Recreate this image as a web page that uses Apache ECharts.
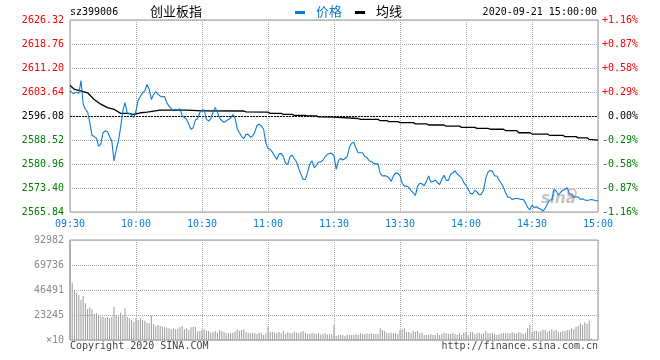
<!DOCTYPE html>
<html>
<head>
<meta charset="utf-8">
<script src="https://cdn.jsdelivr.net/npm/echarts@6/dist/echarts.min.js"></script>
<style>
html,body{margin:0;padding:0;background:#fff;}
#c{width:660px;height:360px;}
</style>
</head>
<body>
<div id="c"></div>
<script>
// ---- data ----
const symbol = 'sz399006';
const title = '创业板指';
const dateText = '2020-09-21 15:00:00';
const prevClose = 2596.08;
const timeLabels = ['09:30','10:00','10:30','11:00','11:30','13:30','14:00','14:30','15:00'];
const price = [
2603.96,2603.43,2603.2,2603.6,2603.2,2607.2,2599.76,2598.2,2597.3,2594.0,
2590.0,2589.6,2589.1,2586.6,2587.2,2590.8,2591.4,2591.2,2589.6,2588.2,
2581.9,2585.4,2588.2,2592.4,2597.7,2600.3,2597.1,2596.9,2596.3,2595.6,
2597.7,2601.1,2602.2,2603.4,2604.0,2606.0,2604.5,2601.3,2602.9,2603.8,
2602.9,2602.4,2602.1,2602.2,2600.3,2599.2,2598.4,2597.9,2598.2,2598.0,
2598.4,2596.1,2595.6,2595.0,2593.5,2591.9,2592.4,2594.8,2595.2,2597.1,
2597.97,2597.97,2595.0,2594.5,2595.2,2597.3,2598.8,2597.3,2595.4,2594.6,
2594.1,2594.5,2595.0,2595.4,2596.5,2595.6,2592.1,2590.8,2589.6,2589.0,
2590.3,2590.3,2589.4,2589.8,2591.0,2593.1,2593.5,2593.0,2591.9,2587.7,
2585.8,2585.6,2584.7,2583.5,2582.4,2584.2,2584.3,2583.3,2581.2,2580.8,
2583.3,2583.7,2582.6,2581.6,2579.5,2577.7,2576.1,2576.1,2578.4,2580.9,
2582.0,2579.8,2580.5,2581.6,2581.6,2582.2,2583.3,2584.0,2584.3,2584.3,
2583.5,2579.3,2582.0,2582.7,2582.2,2582.7,2583.3,2586.2,2587.5,2587.8,
2585.9,2584.5,2584.5,2584.5,2583.3,2583.0,2582.0,2581.7,2581.2,2581.0,
2581.0,2578.0,2577.2,2577.3,2577.1,2576.6,2575.5,2577.2,2578.1,2578.0,
2577.2,2574.9,2574.0,2574.0,2573.6,2572.6,2571.9,2571.1,2574.0,2574.9,
2574.7,2574.1,2575.5,2577.2,2575.3,2575.4,2575.9,2575.2,2574.5,2576.1,
2577.4,2575.8,2575.8,2577.7,2578.2,2578.8,2577.8,2577.2,2576.6,2575.1,
2574.2,2573.0,2571.7,2571.5,2572.6,2572.2,2571.3,2571.4,2572.8,2576.5,
2578.4,2578.9,2578.7,2577.2,2577.2,2575.9,2574.9,2573.6,2572.0,2570.5,
2570.5,2569.7,2570.1,2570.1,2570.0,2569.8,2569.8,2568.8,2567.3,2566.5,
2568.0,2567.2,2567.5,2567.0,2566.7,2566.1,2567.0,2568.4,2569.6,2569.6,
2573.0,2572.5,2571.2,2572.0,2572.7,2573.0,2573.5,2571.5,2571.5,2570.4,
2570.7,2570.5,2569.8,2570.0,2569.6,2569.5,2569.6,2569.8,2569.6,2569.4,
2569.4
];
const avgMinute = [0,2,5,8,11,14,17,20,23,26,29,32,35,41,53,60,79,80,90,91,96,97,101,102,107,108,112,113,120,131,132,140,141,144,145,149,150,156,157,162,163,170,171,177,178,184,185,190,191,197,198,203,204,209,210,217,218,224,225,230,231,235,236,240];
const avgValue = [2605.7,2604.5,2604.0,2603.4,2601.3,2599.8,2598.7,2598.2,2596.9,2596.9,2596.6,2597.1,2597.3,2597.9,2597.9,2597.7,2597.65,2597.4,2597.3,2596.9,2596.9,2596.6,2596.6,2596.3,2596.3,2596.1,2596.1,2595.8,2595.7,2595.3,2595.0,2595.0,2594.6,2594.6,2594.3,2594.3,2594.0,2594.0,2593.6,2593.6,2593.25,2593.25,2592.9,2592.9,2592.5,2592.5,2592.2,2592.2,2591.9,2591.9,2591.5,2591.5,2590.8,2590.8,2590.4,2590.4,2590.0,2590.0,2589.6,2589.6,2589.2,2589.2,2588.7,2588.5];
const volume = [
92982,53300,46500,44000,41850,37200,40900,34100,28500,30400,
28500,24200,24800,22300,21700,21700,20800,21700,20150,21700,
31000,23250,21700,25400,23250,29450,21700,20150,18600,17050,
20150,18600,20150,18600,18000,16100,15500,22600,14900,13000,
14000,13000,12400,11800,11500,10900,9900,10900,9900,10500,
11800,13000,9900,10900,9300,11800,12400,12100,7750,8400,
9300,9900,8700,8400,6800,7100,8400,6800,9300,8100,
7400,6200,6200,6200,6800,7750,9900,8700,9300,9900,
7400,6800,6200,6800,6200,5600,6800,6200,4650,6200,
12400,7400,7400,6800,6200,7400,6200,8700,5600,7400,
6200,6200,7750,6800,6200,7400,8400,6800,5600,5600,
6800,6200,5600,6800,5000,5600,6200,5000,5300,5600,
14000,3700,4650,4650,4650,3700,4650,4650,4650,4650,
5600,4650,6200,5600,5600,6200,5600,6200,5600,5600,
5600,10900,9300,8400,6800,6200,6800,6200,6200,5600,
9300,10200,10900,7400,7400,6200,8400,7400,8400,6200,
6800,4650,4650,4650,5600,4650,4650,6200,4650,5600,
6800,6200,5600,5600,6800,5600,4650,6200,4650,6800,
7400,4650,7400,7400,5600,6200,6800,5600,6200,8400,
6200,6200,6800,5600,4650,5600,6200,6200,6200,6200,
6200,7400,6200,6200,7400,6800,5600,6800,10900,14000,
7400,8400,8400,7400,8400,9300,9300,7400,8400,10200,
8400,9300,7400,7400,8400,8400,9300,9300,10900,9900,
12400,13000,15500,14000,16400,14900,18000,1500,0,0,
0
];
const volMax = 92982;

// ---- chart ----
const mono = 'DejaVu Sans Mono';
const cjk = 'Noto Sans CJK SC';
const blue = '#0b7dd1';
const chart = echarts.init(document.getElementById('c'), null, {renderer: 'canvas'});
const gridLine = {show: true, lineStyle: {color: '#aaa', type: [1, 1], width: 1}};
const tickStep = 7.56;
const priceColor = v => (v > 1e-6 ? '#ff0000' : (v < -1e-6 ? '#008000' : '#000000'));

chart.setOption({
  animation: false,
  backgroundColor: '#fff',
  grid: [
    {left: 70, top: 20, width: 528, height: 192, show: true, borderColor: '#999', borderWidth: 1},
    {left: 70, top: 240, width: 528, height: 100, show: true, borderColor: '#999', borderWidth: 1}
  ],
  xAxis: [
    {type: 'value', gridIndex: 0, min: 0, max: 240, interval: 30,
     axisLine: {show: false}, axisTick: {show: false},
     axisLabel: {formatter: v => timeLabels[Math.round(v / 30)], color: blue, fontFamily: mono, fontSize: 10, margin: 7},
     splitLine: gridLine},
    {type: 'value', gridIndex: 1, min: 0, max: 240, interval: 30,
     axisLine: {show: false}, axisTick: {show: false}, axisLabel: {show: false},
     splitLine: gridLine}
  ],
  yAxis: [
    {type: 'value', gridIndex: 0, min: -4 * tickStep, max: 4 * tickStep, interval: tickStep,
     axisLine: {show: false}, axisTick: {show: false},
     axisLabel: {formatter: v => (prevClose + v).toFixed(2), color: v => priceColor(v), fontFamily: mono, fontSize: 10, margin: 6},
     splitLine: gridLine},
    {type: 'value', gridIndex: 0, position: 'right', min: -4 * tickStep, max: 4 * tickStep, interval: tickStep,
     axisLine: {show: false}, axisTick: {show: false},
     axisLabel: {formatter: v => {
        const pct = v / prevClose * 100;
        if (Math.abs(pct) < 1e-6) return '0.00%';
        return (pct > 0 ? '+' : '') + pct.toFixed(2) + '%';
      }, color: v => priceColor(v), fontFamily: mono, fontSize: 10, margin: 40, align: 'right'},
     splitLine: {show: false}},
    {type: 'value', gridIndex: 1, min: 0, max: volMax, interval: volMax / 4,
     axisLine: {show: false}, axisTick: {show: false},
     axisLabel: {formatter: v => (v === 0 ? '×10' : String(Math.floor(v + 1e-6))), color: '#8a8a8a', fontFamily: mono, fontSize: 10, margin: 6},
     splitLine: gridLine}
  ],
  series: [
    {type: 'bar', xAxisIndex: 1, yAxisIndex: 2, barWidth: 1,
     itemStyle: {color: '#9a9a9a'},
     data: volume.map((v, i) => [i, v])},
    {type: 'line', xAxisIndex: 0, yAxisIndex: 0, showSymbol: false, z: 5,
     lineStyle: {color: '#000', width: 1.3},
     data: avgMinute.map((m, k) => [m, avgValue[k] - prevClose])},
    {type: 'line', xAxisIndex: 0, yAxisIndex: 0, showSymbol: false, z: 6,
     lineStyle: {color: blue, width: 1.1},
     data: price.map((p, i) => [i, p - prevClose]),
     markLine: {silent: true, symbol: 'none', label: {show: false},
       lineStyle: {color: '#000', type: [2, 1], width: 1},
       data: [{yAxis: 0}]}}
  ],
  graphic: [
    {type: 'text', left: 70, top: 7, style: {text: symbol, font: '10px "' + mono + '"', fill: '#000'}},
    {type: 'text', left: 150, top: 5, style: {text: title, font: '13px "' + cjk + '"', fill: '#000'}},
    {type: 'rect', shape: {x: 295, y: 11, width: 10, height: 3}, style: {fill: blue}},
    {type: 'text', left: 316, top: 5, style: {text: '价格', font: '13px "' + cjk + '"', fill: blue}},
    {type: 'rect', shape: {x: 355, y: 11, width: 10, height: 3}, style: {fill: '#000'}},
    {type: 'text', left: 376, top: 5, style: {text: '均线', font: '13px "' + cjk + '"', fill: '#000'}},
    {type: 'text', right: 63, top: 7, style: {text: dateText, font: '10px "' + mono + '"', fill: '#000'}},
    {type: 'text', left: 70, top: 341, style: {text: 'Copyright 2020 SINA.COM', font: '10px "' + mono + '"', fill: '#444'}},
    {type: 'text', right: 62, top: 341, style: {text: 'http://finance.sina.com.cn', font: '10px "' + mono + '"', fill: '#444'}},
    {type: 'text', left: 541, top: 192, z: 1, style: {text: 'sina', font: 'italic bold 15px "DejaVu Sans"', fill: '#c4c4c4'}},
    {type: 'circle', shape: {cx: 572, cy: 193, r: 4}, z: 1, style: {fill: 'none', stroke: '#f0a8a8', lineWidth: 1.5}}
  ]
});
</script>
</body>
</html>
